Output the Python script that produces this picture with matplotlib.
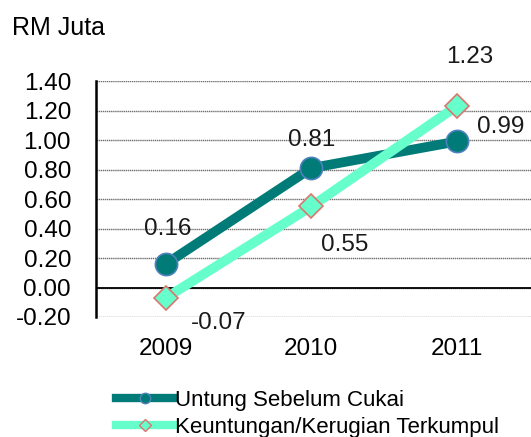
import matplotlib.pyplot as plt

plt.rcParams["font.family"] = ["Liberation Sans", "DejaVu Sans"]

years = ["2009", "2010", "2011"]
untung = [0.16, 0.81, 0.99]
keuntungan = [-0.07, 0.55, 1.23]
yticks = [-0.20, 0.00, 0.20, 0.40, 0.60, 0.80, 1.00, 1.20, 1.40]

fig = plt.figure(figsize=(5.31, 4.37), dpi=100)
ax = fig.add_axes([0.181, 0.2746, 0.819, 0.54])

x = range(len(years))
ax.plot(x, untung, color="#007B78", lw=7, marker="o", markersize=16,
        markerfacecolor="#007B78", markeredgecolor="#4F81BD", markeredgewidth=1.2,
        label="Untung Sebelum Cukai", zorder=3)
ax.plot(x, keuntungan, color="#66FFCC", lw=7, marker="D", markersize=12.5,
        markerfacecolor="#66FFCC", markeredgecolor="#D9776F", markeredgewidth=1.2,
        label="Keuntungan/Kerugian Terkumpul", zorder=3)

# data labels (placed as in the original)
lab_kw = dict(fontsize=17.5, ha="center", va="center", color="#1a1a1a", zorder=4)
ax.text(0.01, untung[0] + 0.24, f"{untung[0]:.2f}", **lab_kw)
ax.text(1.0, untung[1] + 0.19, f"{untung[1]:.2f}", **lab_kw)
ax.text(2.30, untung[2] + 0.10, f"{untung[2]:.2f}", **lab_kw)
ax.text(0.36, keuntungan[0] - 0.17, f"{keuntungan[0]:.2f}", **lab_kw)
ax.text(1.23, keuntungan[1] - 0.26, f"{keuntungan[1]:.2f}", **lab_kw)
ax.text(2.09, keuntungan[2] + 0.33, f"{keuntungan[2]:.2f}", **lab_kw)

ax.set_xlim(-0.48, 2.51)
ax.set_ylim(-0.2, 1.4)
ax.set_yticks(yticks)
ax.set_yticklabels([f"{v:.2f}" for v in yticks], fontsize=17.5)
ax.set_xticks(list(x))
ax.set_xticklabels(years, fontsize=17.5)
ax.tick_params(length=0)
ax.tick_params(axis="y", pad=18)
ax.tick_params(axis="x", pad=15)

ax.grid(axis="y", linestyle=(0, (1, 0.5)), color="#6e6e6e", lw=1)
ax.axhline(0, color="black", lw=1.3, zorder=2)
for s in ["top", "right", "bottom"]:
    ax.spines[s].set_visible(False)
ax.spines["left"].set_linewidth(1.8)

fig.text(0.023, 0.935, "RM Juta", fontsize=18, ha="left", va="center")

leg_handles = [
    plt.Line2D([], [], color="#007B78", lw=6, marker="o", markersize=7.5,
               markerfacecolor="#007B78", markeredgecolor="#4F81BD"),
    plt.Line2D([], [], color="#66FFCC", lw=6, marker="D", markersize=6,
               markerfacecolor="#66FFCC", markeredgecolor="#D9776F"),
]
fig.legend(leg_handles, ["Untung Sebelum Cukai", "Keuntungan/Kerugian Terkumpul"],
           loc="upper left", bbox_to_anchor=(0.219, 0.108), frameon=False,
           borderpad=0, borderaxespad=0,
           fontsize=16, handlelength=2.6, handletextpad=0.05, labelspacing=0.28)

fig.savefig("out.png", dpi=100)
